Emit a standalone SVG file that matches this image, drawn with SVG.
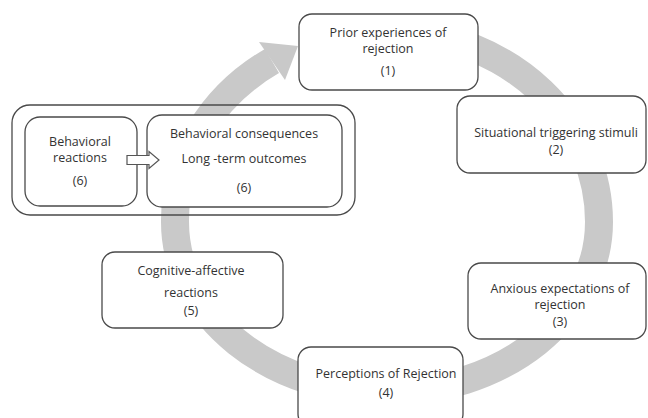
<svg xmlns="http://www.w3.org/2000/svg" width="648" height="418" viewBox="0 0 648 418">
<style>
  .box { fill: #ffffff; stroke: #4a4a4a; stroke-width: 1.3; }
  .frame { fill: none; stroke: #4a4a4a; stroke-width: 1.3; }
  .t { font-family: "Open Sans", "Liberation Sans", sans-serif; font-size: 12.5px; fill: #333333; text-anchor: middle; }
  .cycle { fill: none; stroke: #c9c9c9; stroke-width: 28; }
  .head { fill: #c9c9c9; }
  .blockarrow { fill: #ffffff; stroke: #555555; stroke-width: 1.2; stroke-linejoin: miter; }
</style>
<rect width="648" height="418" fill="#ffffff"/>
<g id="connectors">
  <path class="cycle" d="M 400 32 A 212 190 0 0 1 599 222 A 212 170 0 0 1 175 222 A 212 190 0 0 1 272 61"/>
  <polygon class="head" points="259,42 298,46 285,80"/>
</g>
<g id="group6">
  <rect class="frame" x="12" y="105" width="343" height="110" rx="18"/>
</g>
<g id="node1">
  <rect class="box" x="299" y="14" width="179" height="76" rx="13"/>
  <text class="t" x="388" y="37">Prior experiences of</text>
  <text class="t" x="388" y="53">rejection</text>
  <text class="t" x="388" y="75">(1)</text>
</g>
<g id="node2">
  <rect class="box" x="457" y="96" width="189" height="77" rx="13"/>
  <text class="t" x="556" y="137">Situational triggering stimuli</text>
  <text class="t" x="556" y="154">(2)</text>
</g>
<g id="node3">
  <rect class="box" x="468" y="263" width="178" height="76" rx="13"/>
  <text class="t" x="560" y="293">Anxious expectations of</text>
  <text class="t" x="560" y="309">rejection</text>
  <text class="t" x="560" y="326">(3)</text>
</g>
<g id="node4">
  <rect class="box" x="298" y="347" width="165" height="80" rx="13"/>
  <text class="t" x="386" y="378">Perceptions of Rejection</text>
  <text class="t" x="386" y="397">(4)</text>
</g>
<g id="node5">
  <rect class="box" x="102" y="252" width="181" height="76" rx="13"/>
  <text class="t" x="191" y="275">Cognitive-affective</text>
  <text class="t" x="191" y="297">reactions</text>
  <text class="t" x="191" y="315">(5)</text>
</g>
<g id="node6a">
  <rect class="box" x="25" y="117" width="112" height="89" rx="15"/>
  <text class="t" x="80" y="146">Behavioral</text>
  <text class="t" x="80" y="162">reactions</text>
  <text class="t" x="80" y="185">(6)</text>
</g>
<g id="node6b">
  <rect class="box" x="147" y="115" width="195" height="92" rx="15"/>
  <text class="t" x="244" y="138">Behavioral consequences</text>
  <text class="t" x="244" y="163">Long -term outcomes</text>
  <text class="t" x="244" y="192">(6)</text>
</g>
<g id="arrow6">
  <polygon class="blockarrow" points="127,155.5 149,155.5 149,151.5 159,160 149,168.5 149,164.5 127,164.5"/>
</g>
</svg>
